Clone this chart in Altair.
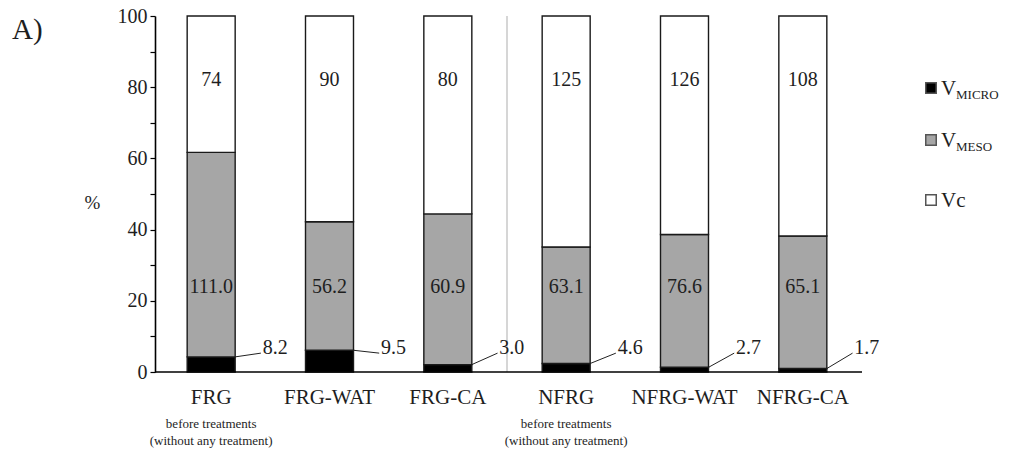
import altair as alt
import pandas as pd

# Pore volumes per sample (raw values printed in the segments)
categories = ["FRG", "FRG-WAT", "FRG-CA", "NFRG", "NFRG-WAT", "NFRG-CA"]
v_micro = [8.2, 9.5, 3.0, 4.6, 2.7, 1.7]
v_meso = [111.0, 56.2, 60.9, 63.1, 76.6, 65.1]
v_c = [74, 90, 80, 125, 126, 108]
notes = [
    "before treatments\n(without any treatment)", "", "",
    "before treatments\n(without any treatment)", "", "",
]

components = ["V_MICRO", "V_MESO", "Vc"]
fills = ["#000000", "#a6a6a6", "#ffffff"]
legend_main = ["V", "V", "Vc"]
legend_sub = ["MICRO", "MESO", ""]

FONT = "Liberation Serif"
TXT = "#1e1e1e"
W, H = 708, 356

# long table: one row per segment, stacked as percentage of the bar total
rows = []
per_cat = []
for i, cat in enumerate(categories):
    total = v_micro[i] + v_meso[i] + v_c[i]
    parts = [(v_micro[i], f"{v_micro[i]:.1f}"),
             (v_meso[i], f"{v_meso[i]:.1f}"),
             (v_c[i], f"{v_c[i]:g}")]
    for k, (val, lab) in enumerate(parts):
        rows.append(dict(cat=cat, comp=components[k], order=k,
                         value=val, pct=val / total * 100, label=lab))
    per_cat.append(dict(cat=cat, micro_pct=v_micro[i] / total * 100,
                        micro_label=f"{v_micro[i]:.1f}", note=notes[i]))
df = pd.DataFrame(rows)
cat_df = pd.DataFrame(per_cat)

xscale = alt.Scale(domain=categories, range=[-3, W - 1], paddingInner=0, paddingOuter=0)
yscale = alt.Scale(domain=[0, 100], nice=False)

# the same axis objects go on every layer so the shared axes merge cleanly
x_axis = alt.Axis(title=None, labelAngle=0, domain=False, ticks=False,
                  labelFont=FONT, labelFontSize=21, labelColor=TXT, labelPadding=14)
y_axis = alt.Axis(values=list(range(0, 101, 10)),
                  labelExpr="datum.value % 20 == 0 ? datum.label : ''",
                  title="%", titleAngle=0, titleX=-63, titleY=186,
                  titleFont=FONT, titleFontSize=19, titleFontWeight="normal",
                  titleColor=TXT, titleAlign="center", titleBaseline="middle",
                  grid=False, tickSize=5, tickColor="#000", tickWidth=1.2,
                  domainColor="#000", domainWidth=1.6,
                  labelFont=FONT, labelFontSize=20, labelColor=TXT, labelPadding=3)


def xpos(band):
    return alt.X("cat:N", scale=xscale, sort=categories, bandPosition=band, axis=x_axis)


def yfield(name, **kw):
    return alt.Y(name, scale=yscale, axis=y_axis, **kw)


def ydatum(v):
    return alt.YDatum(v, scale=yscale, axis=y_axis)


bars = alt.Chart(df).mark_bar(size=48, stroke="#1a1a1a", strokeWidth=1.4).encode(
    x=xpos(0.5),
    y=yfield("pct:Q", stack="zero"),
    color=alt.Color("comp:N", scale=alt.Scale(domain=components, range=fills), legend=None),
    order=alt.Order("order:Q"),
)

baseline = alt.Chart(pd.DataFrame({"v": [0]})).mark_rule(color="#000", strokeWidth=1.6).encode(
    y=yfield("v:Q"), x=alt.value(0), x2=alt.value(W - 1)
)

separator = alt.Chart(cat_df).transform_filter("datum.cat == 'NFRG'").mark_rule(
    color="#c8c8c8", strokeWidth=1.5
).encode(x=xpos(0), y=ydatum(0), y2=alt.Y2Datum(100))

vc_text = alt.Chart(df).transform_filter("datum.comp == 'Vc'").mark_text(
    font=FONT, fontSize=20, color=TXT, baseline="middle"
).encode(x=xpos(0.5), y=ydatum(82), text="label:N")

meso_text = alt.Chart(df).transform_filter("datum.comp == 'V_MESO'").mark_text(
    font=FONT, fontSize=20, color=TXT, baseline="middle"
).encode(x=xpos(0.5), y=ydatum(24), text="label:N")

leaders = alt.Chart(cat_df).mark_rule(color="#222", strokeWidth=1).encode(
    x=xpos(0.703), x2=alt.X2("cat:N", bandPosition=0.92),
    y=yfield("micro_pct:Q"), y2=alt.Y2Datum(5.3)
)

micro_text = alt.Chart(cat_df).mark_text(
    font=FONT, fontSize=20, color=TXT, align="left", baseline="middle"
).encode(x=xpos(0.935), y=ydatum(6.7), text="micro_label:N")

note_text = alt.Chart(cat_df).mark_text(
    font=FONT, fontSize=13, color=TXT, baseline="middle", lineBreak="\n", lineHeight=17
).encode(x=xpos(0.5), y=alt.value(H + 52), text="note:N")

panel_tag = alt.Chart(pd.DataFrame({"t": ["A)"]})).mark_text(
    font=FONT, fontSize=29, color=TXT, align="left", baseline="middle"
).encode(x=alt.value(-143), y=alt.value(14), text="t:N")

# hand-drawn legend with subscripted names
legend_layers = []
legend_rows_y = [72, 124, 184]
for i, comp in enumerate(components):
    ly = legend_rows_y[i]
    d = pd.DataFrame({"comp": [comp]})
    legend_layers.append(
        alt.Chart(d).mark_square(size=110, fill=fills[i], stroke="#555",
                                 strokeWidth=1.5, opacity=1)
        .encode(x=alt.value(776), y=alt.value(ly))
    )
    legend_layers.append(
        alt.Chart(d).mark_text(font=FONT, fontSize=21, color=TXT, align="left",
                               baseline="alphabetic")
        .encode(x=alt.value(786), y=alt.value(ly + 7), text=alt.value(legend_main[i]))
    )
    if legend_sub[i]:
        legend_layers.append(
            alt.Chart(d).mark_text(font=FONT, fontSize=13, color=TXT, align="left",
                                   baseline="alphabetic")
            .encode(x=alt.value(801), y=alt.value(ly + 11), text=alt.value(legend_sub[i]))
        )

chart = alt.layer(
    separator, bars, baseline, vc_text, meso_text, leaders, micro_text,
    note_text, panel_tag, *legend_layers
).properties(
    width=W, height=H,
    background="white",
    autosize=alt.AutoSizeParams(type="none"),
    padding={"left": 155, "top": 16, "right": 148, "bottom": 85},
).configure_view(stroke=None)

chart.save("out.html", embed_options={"renderer": "svg", "actions": False})
